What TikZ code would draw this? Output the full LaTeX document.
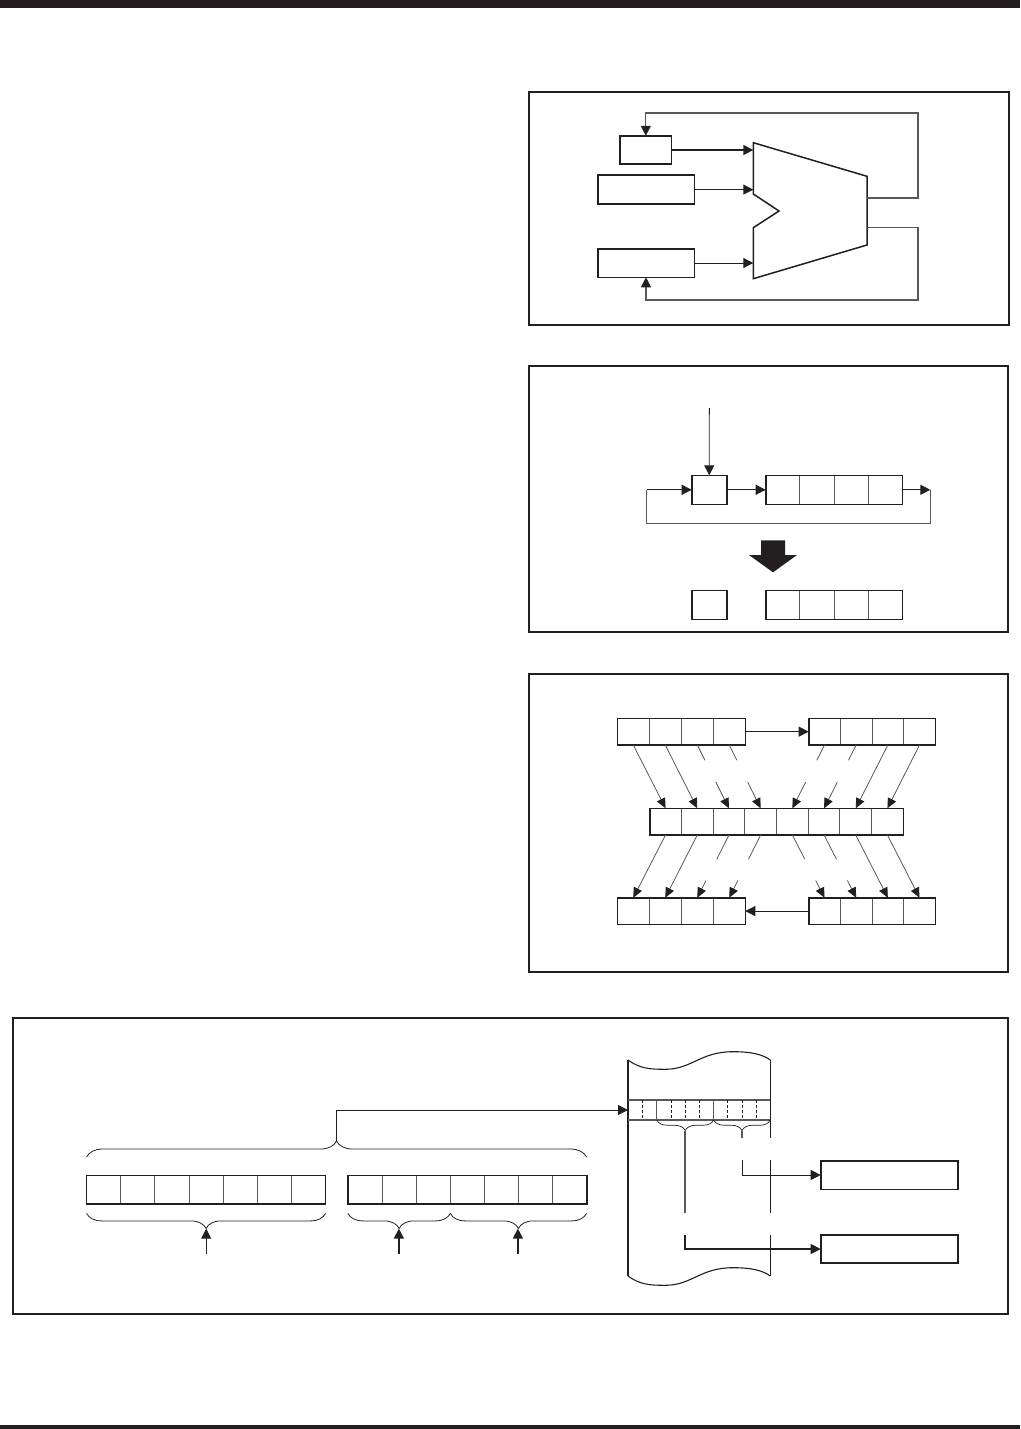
\documentclass[tikz,border=0pt]{standalone}
\usepackage{tikz}
\usetikzlibrary{arrows.meta, calc, decorations.pathreplacing}

\definecolor{ink}{HTML}{231F20}
\definecolor{wire}{HTML}{5A5859}

\tikzset{
  frame/.style={draw=ink, line width=1.8pt},
  regbox/.style={draw=ink, line width=1.6pt, fill=white, outer sep=0pt, inner sep=0pt},
  cellbox/.style={draw=wire, line width=0.9pt, outer sep=0pt, inner sep=0pt},
  conn/.style={draw=ink, line width=0.9pt, -{Triangle[length=10pt,width=10pt]}},
  slant/.style={draw=wire, line width=0.8pt},
  slantarrow/.style={slant, -{Triangle[length=10pt,width=9pt,color=ink]}},
  wirelink/.style={draw=wire, line width=1.1pt},
  curly/.style={draw=ink, line width=0.8pt, decorate, decoration={brace, amplitude=#1}},
}

% row of equal cells with a heavier outline
\newcommand{\regrow}[6]{%
  \foreach \i in {1,...,#4}
    \node[cellbox, minimum width=#5pt, minimum height=#6pt, anchor=north west] (#1\i) at ({#2+(\i-1)*#5},#3) {};
  \draw[ink, line width=1.6pt] (#11.north west) rectangle (#1#4.south east);
}

\begin{document}
\begin{tikzpicture}[x=1pt, y=-1pt]
  \useasboundingbox (0,0) rectangle (1020,1429);
  \fill[ink] (0,0) rectangle (1020,8);
  \fill[ink] (0,1425) rectangle (1020,1429);

  % frames
  \draw[frame] (529,92) rectangle (1009,325);
  \draw[frame] (529,366) rectangle (1008,632);
  \draw[frame] (529,674) rectangle (1008,972);
  \draw[frame] (13,1018) rectangle (1008,1314);

  % ALU panel
  \node[regbox, minimum width=51.7pt, minimum height=28.4pt] (acc) at (645.8,150) {};
  \node[regbox, minimum width=96.6pt, minimum height=28.7pt] (opa) at (646,189.6) {};
  \node[regbox, minimum width=96.6pt, minimum height=28.6pt] (opb) at (646,263) {};
  \draw[ink, line width=1.5pt] (753.3,142.7) -- (867,176.3) -- (867,245) -- (753.3,278.7)
    -- (753.3,227.7) -- (779,211) -- (753.3,194) -- cycle;
  \coordinate (aluup) at (867,198);
  \coordinate (aludn) at (867,227.7);
  \coordinate (aluina) at (753.3,150);
  \coordinate (aluinb) at (753.3,189.6);
  \coordinate (aluinc) at (753.3,263);
  \draw[conn, line width=1.5pt] (acc.east) -- (aluina);
  \draw[conn] (opa.east) -- (aluinb);
  \draw[conn] (opb.east) -- (aluinc);
  \draw[wirelink, -{Triangle[length=10pt,width=10pt,color=ink]}] (aluup) -- (918,198) -- (918,113) -| (acc.north);
  \draw[wirelink, -{Triangle[length=10pt,width=10pt,color=ink]}] (aludn) -- (918,227.7) -- (918,300) -| (opb.south);

  % rotate panel
  \node[regbox, minimum width=35pt, minimum height=29pt] (carry) at (709.2,489.8) {};
  \regrow{shf}{765.7}{475.3}{4}{34.15}{29}
  \coordinate (feed) at (709.3,408);
  \coordinate (turnr) at (930.3,489.8);
  \coordinate (turnl) at (646.7,489.8);
  \draw[conn] (feed) -- (carry.north);
  \draw[conn] (carry.east) -- (shf1.west);
  \draw[conn] (shf4.east) -- (turnr);
  \draw[wirelink] (turnr) -- (930.3,523.7) -- (646.7,523.7) -- (turnl);
  \draw[conn] (turnl) -- (carry.west);
  \fill[ink] (761,540.3) -- (785,540.3) -- (785,555) -- (797,555) -- (773,572.3) -- (749,555) -- (761,555) -- cycle;
  \node[regbox, minimum width=35pt, minimum height=29pt] (carryb) at (709.2,604.8) {};
  \regrow{res}{765.7}{590.3}{4}{34.15}{29}

  % swap panel
  \regrow{tl}{617.3}{718.3}{4}{32}{26.7}
  \regrow{tr}{808.7}{718.3}{4}{31.65}{26.7}
  \regrow{mc}{649.7}{808.3}{8}{31.7}{26.7}
  \regrow{bl}{617.3}{897.7}{4}{32}{26.7}
  \regrow{br}{808.7}{897.7}{4}{31.65}{26.7}
  \draw[conn] (tl4.east) -- (tr1.west);
  \draw[conn] (br1.west) -- (bl4.east);
  \draw[slantarrow] (tl1.south) -- (mc1.north);
  \draw[slantarrow] (tl2.south) -- (mc2.north);
  \foreach \a/\b in {tl3/mc3, tl4/mc4, tr1/mc5, tr2/mc6}{
    \draw[slant] (\a.south) -- ($(\a.south)!.24!(\b.north)$);
    \draw[slantarrow] ($(\a.south)!.585!(\b.north)$) -- (\b.north);
  }
  \draw[slantarrow] (tr3.south) -- (mc7.north);
  \draw[slantarrow] (tr4.south) -- (mc8.north);
  \draw[slantarrow] (mc1.south) -- (bl1.north);
  \draw[slantarrow] (mc2.south) -- (bl2.north);
  \foreach \a/\b in {mc3/bl3, mc4/bl4, mc5/br1, mc6/br2}{
    \draw[slant] (\a.south) -- ($(\a.south)!.387!(\b.north)$);
    \draw[slantarrow] ($(\a.south)!.726!(\b.north)$) -- (\b.north);
  }
  \draw[slantarrow] (mc7.south) -- (br3.north);
  \draw[slantarrow] (mc8.south) -- (br4.north);

  % address panel
  \regrow{hi}{86.6}{1175.5}{7}{34.13}{28.7}
  \regrow{lo}{347.9}{1175.5}{7}{34.13}{28.7}
  \draw[curly=16pt] (86.6,1157) -- (586.5,1157);
  \draw[curly=15pt] (325.5,1213.4) -- (86.6,1213.4);
  \draw[curly=15pt] (450.3,1213.4) -- (347.9,1213.4);
  \draw[curly=15pt] (586.5,1213.4) -- (450.3,1213.4);
  \coordinate (topbrace) at (336.5,1141);
  \coordinate (rowin) at (628,1110);
  \draw[conn] (topbrace) |- (rowin);
  \foreach \n/\x/\w in {bank/206.2/0.9, rp/398.9/1.4, ofs/517.9/1.4}{
    \coordinate (\n tip) at (\x,1228.6);
    \coordinate (\n low) at (\x,1254);
    \draw[conn, line width=\w pt] (\n low) -- (\n tip);
  }

  % memory strip
  \draw[ink, line width=1.1pt] (628,1060) .. controls (640,1069) and (652,1069.3) .. (665,1069.3)
    .. controls (692,1069.3) and (700,1051.7) .. (733,1051.7) .. controls (750,1051.7) and (762,1054) .. (770.3,1060);
  \draw[ink, line width=1.1pt] (628,1276) .. controls (640,1285) and (652,1285.3) .. (665,1285.3)
    .. controls (692,1285.3) and (700,1267.7) .. (733,1267.7) .. controls (750,1267.7) and (762,1270) .. (770.3,1276);
  \draw[ink, line width=1.1pt] (628,1060) -- (628,1276);
  \draw[ink, line width=1.1pt] (770.3,1060) -- (770.3,1137.7);
  \draw[ink, line width=1.1pt] (770.3,1160) -- (770.3,1212.7);
  \draw[ink, line width=1.1pt] (770.3,1235.3) -- (770.3,1276);
  \draw[wire, line width=1.3pt] (628,1100) -- (770.3,1100);
  \draw[wire, line width=1.3pt] (628,1120) -- (770.3,1120);
  \foreach \x in {642.7,671,685,699.3,727.7,742,756}
    \draw[ink, line width=0.8pt, dash pattern=on 3pt off 2pt] (\x,1100) -- (\x,1120);
  \foreach \x in {656.7,713.7}
    \draw[wire, line width=0.9pt] (\x,1100) -- (\x,1120);
  \draw[curly=10.5pt, line width=0.7pt] (713.7,1120) -- (656.7,1120);
  \draw[curly=10.5pt, line width=0.7pt] (770.3,1120) -- (713.7,1120);

  \node[regbox, minimum width=137pt, minimum height=28.6pt] (idx) at (889.2,1175) {};
  \node[regbox, minimum width=137pt, minimum height=28.3pt] (ptr) at (889.2,1249) {};
  \draw[wire, line width=1.1pt] (742,1130.5) -- (742,1137.7);
  \coordinate (idxup) at (742,1160);
  \draw[conn] (idxup) |- (idx.west);
  \draw[wire, line width=1.1pt] (685,1130.5) -- (685,1212.7);
  \coordinate (ptrup) at (685,1235.3);
  \draw[conn, line width=1.3pt] (ptrup) |- (ptr.west);
\end{tikzpicture}
\end{document}
